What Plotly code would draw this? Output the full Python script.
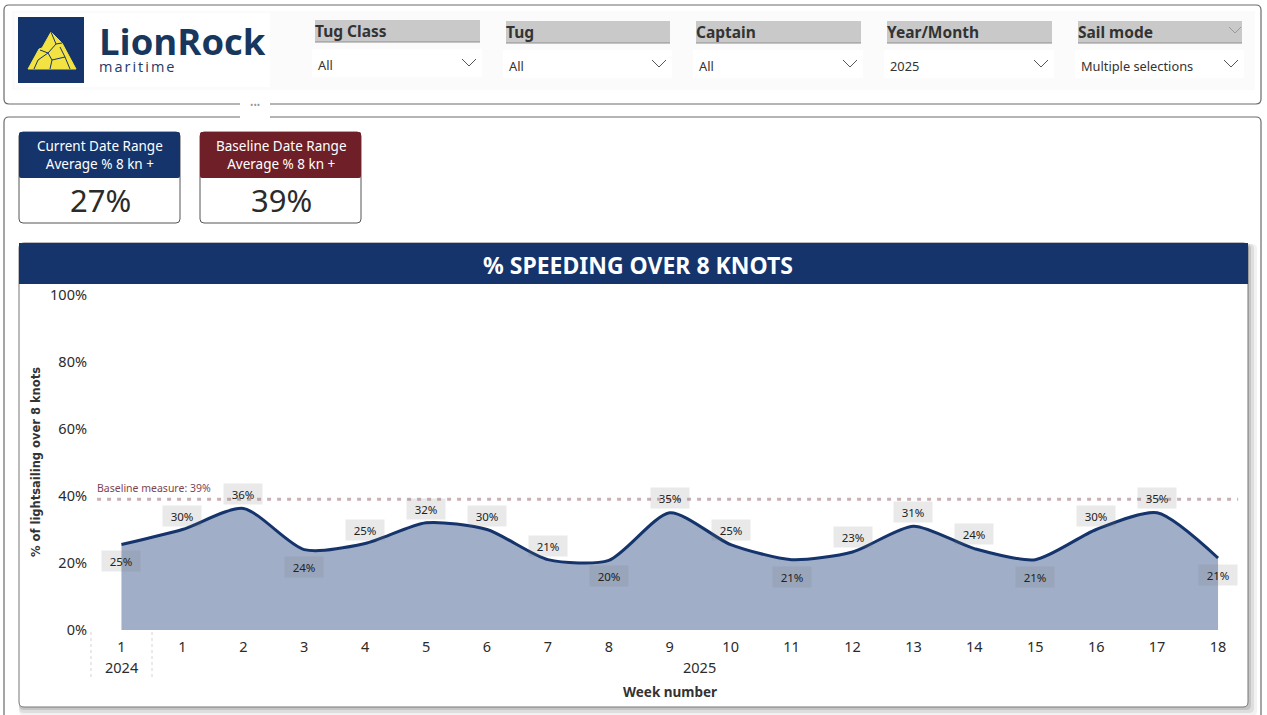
import plotly.graph_objects as go

W, H = 1267, 715
week_labels = ["1","1","2","3","4","5","6","7","8","9","10","11","12","13","14","15","16","17","18"]
values = [25.5,30,36.3,24,25.8,32,30,21,20.8,35,25.5,21,23.3,31,24.3,21,30,35,21.5]
value_labels = ["25%","30%","36%","24%","25%","32%","30%","21%","20%","35%","25%","21%","23%","31%","24%","21%","30%","35%","21%"]
label_offsets = [-16,14,14,-17,14,14,14,14,-16,15,15,-17,15,14,15,-17,14,15,-17]
baseline_value = 39
slicers = [("Tug Class","All",315,480,20),("Tug","All",506,670,21),("Captain","All",696,861,21),
           ("Year/Month","2025",887,1052,21),("Sail mode","Multiple selections",1078,1242,21)]
kpis = [("Current Date Range<br>Average % 8 kn +","27%",19,"#14346b"),
        ("Baseline Date Range<br>Average % 8 kn +","39%",200,"#6e1f27")]

NAVY = "#14346b"; FONT = "Noto Sans"; TXT = "#2b2b2b"
px = lambda v: v / W
py = lambda v: 1 - v / H
shapes, ann = [], []

def rrect(x0, y0, x1, y1, r=4, fill=None, line=None, lw=1, layer="below", op=1):
    X0,X1,Y0,Y1 = x0,x1,y0,y1
    p = (f"M{px(X0+r)},{py(Y0)} L{px(X1-r)},{py(Y0)} Q{px(X1)},{py(Y0)} {px(X1)},{py(Y0+r)} "
         f"L{px(X1)},{py(Y1-r)} Q{px(X1)},{py(Y1)} {px(X1-r)},{py(Y1)} L{px(X0+r)},{py(Y1)} "
         f"Q{px(X0)},{py(Y1)} {px(X0)},{py(Y1-r)} L{px(X0)},{py(Y0+r)} Q{px(X0)},{py(Y0)} {px(X0+r)},{py(Y0)} Z")
    shapes.append(dict(type="path", xref="paper", yref="paper", path=p, fillcolor=fill or "rgba(0,0,0,0)",
                       line=dict(color=line or "rgba(0,0,0,0)", width=lw if line else 0), layer=layer, opacity=op))

def rect(x0, y0, x1, y1, fill, layer="below"):
    shapes.append(dict(type="rect", xref="paper", yref="paper", x0=px(x0), x1=px(x1), y0=py(y0), y1=py(y1),
                       fillcolor=fill, line=dict(width=0), layer=layer))

def seg(pts, color, w=1, dash=None, fill=None, layer="below"):
    p = "M" + " L".join(f"{px(a)},{py(b)}" for a, b in pts)
    if fill: p += " Z"
    shapes.append(dict(type="path", xref="paper", yref="paper", path=p, fillcolor=fill or "rgba(0,0,0,0)",
                       line=dict(color=color, width=w, dash=dash or "solid"), layer=layer))

def text(x, y, s, size, color=TXT, anchor="center", bold=False, family=FONT, **kw):
    ann.append(dict(xref="paper", yref="paper", x=px(x), y=py(y), text=f"<b>{s}</b>" if bold else s, showarrow=False,
                    xanchor=anchor, yanchor="middle", font=dict(size=size, color=color, family=family), **kw))

# outer panels
rrect(4, 5, 1261, 104, 5, "#ffffff", "#6b6b6b", 1.2)
rrect(4, 117, 1261, 760, 5, "#ffffff", "#6b6b6b", 1.2)
rect(240, 100, 270, 120, "#ffffff")
text(255, 104, "•••", 9, "#999999")

# logo
rect(12, 11, 1255, 90, "#fbfbfb")
rect(15, 13, 270, 87, "#ffffff")
rect(18, 17, 84, 83, "#14346b")
seg([(28,69),(39,49),(42,48),(51,32),(62,43),(76,69)], "#f2e342", 1, fill="#f2e342")
for c in ([(51,32),(56,44),(48,53),(52,60),(50,69)], [(62,43),(56,44)], [(48,53),(40,50)],
          [(52,60),(65,57),(70,69)], [(65,57),(60,47)], [(48,53),(38,60),(34,69)]):
    seg(c, "#14346b", 1)
text(97, 41, "LionRock", 36.5, "#17375e", "left", True, "Open Sans")
text(105, 66, "maritime", 14.5, "#1f3a63", "left", False, "Open Sans")

# slicers
for name, val, x0, x1, y0 in slicers:
    rect(x0, y0, x1, y0 + 22, "#c9c9c9")
    seg([(x0, y0 + 22), (x1, y0 + 22)], "#8d8d8d", 1)
    text(x0 - 2, y0 + 11, name, 15.5, "#333333", "left", True)
    rect(x0 - 3, y0 + 29, x1 + 2, y0 + 57, "#ffffff")
    text(x0 + 1, y0 + 44.5, val, 12.8, "#333333", "left")
    seg([(x1 - 18, y0 + 39), (x1 - 11, y0 + 46), (x1 - 4, y0 + 39)], "#555555", 1)
seg([(1229, 27), (1235, 33), (1241, 27)], "#999999", 1)

# KPI cards
for title, val, x0, col in kpis:
    rrect(x0, 132, x0 + 161, 223, 4, "#ffffff", "#555555", 1)
    rrect(x0, 132, x0 + 161, 178, 2, col)
    text(x0 + 81, 155, title, 13.5, "#ffffff")
    text(x0 + 81, 200, val, 31, "#2b2b2b")

# chart card
for d, o in ((9, .08), (6, .12), (3, .18)):
    rrect(19, 244, 1248 + d, 707 + d, 5, "#555555", op=o)
rrect(19, 243, 1248, 707, 5, "#ffffff", "#777777", 1)
rect(19, 243, 1248, 284, NAVY)
text(638, 265, "% SPEEDING OVER 8 KNOTS", 23, "#ffffff", bold=True)

# separators, axis titles
for x in (91, 152):
    seg([(x, 632), (x, 678)], "#d4d4d4", 1, "dot")
text(121, 667, "2024", 14.5)
text(699, 667, "2025", 14.5)
text(670, 692, "Week number", 13.5, "#333333", bold=True)
ann.append(dict(xref="paper", yref="paper", x=px(36), y=py(462), text="<b>% of lightsailing over 8 knots</b>",
                xanchor="center", yanchor="middle", textangle=-90, showarrow=False,
                font=dict(size=11.5, color="#333333", family="DejaVu Sans")))

xs = list(range(len(values)))
fig = go.Figure()
fig.add_trace(go.Scatter(x=xs, y=values, mode="lines", fill="tozeroy", fillcolor="#a0aec8",
                         line=dict(color="#14346b", width=3, shape="spline", smoothing=0.7), hoverinfo="skip"))
fig.add_trace(go.Scatter(x=[-0.4, 18.33], y=[baseline_value, baseline_value], mode="lines",
                         line=dict(color="#c9b0b5", width=3, dash="4px,6px"), hoverinfo="skip"))

# data labels
for x, v, t, o in zip(xs, values, value_labels, label_offsets):
    ann.append(dict(x=x, y=v, xref="x", yref="y", text=t, showarrow=False, yshift=o, width=36, height=18,
                    bgcolor="rgba(120,120,120,0.16)", font=dict(size=11.5, color="#222222", family=FONT)))
ann.append(dict(x=-0.4, y=baseline_value, xref="x", yref="y", text="Baseline measure: 39%", showarrow=False, xanchor="left",
                yshift=11, xshift=-2, font=dict(size=10.5, color="#7e4450", family=FONT)))

fig.update_layout(width=W, height=H, margin=dict(l=0, r=0, t=0, b=0, autoexpand=False), paper_bgcolor="#ffffff", plot_bgcolor="rgba(0,0,0,0)",
                  showlegend=False, shapes=shapes, annotations=ann, font=dict(family=FONT, color=TXT),
                  xaxis=dict(domain=[px(91), px(1248.5)], range=[-0.5, 18.5], tickmode="array", tickvals=xs, ticktext=week_labels,
                             showgrid=False, zeroline=False, showline=False, ticks="", ticklabelstandoff=6,
                             tickfont=dict(size=14.5, color=TXT), anchor="y"),
                  yaxis=dict(domain=[py(630), py(295)], range=[0, 100], tick0=0, dtick=20, ticksuffix="%", ticklabelstandoff=3,
                             showgrid=False, zeroline=False, showline=False, tickfont=dict(size=14.5, color=TXT), anchor="x"))
fig.write_html("out.html", post_script="""document.body.style.margin='0';document.body.style.overflow='hidden';
document.querySelectorAll('.annotation-text').forEach(function(t){if(t.textContent==='maritime'){t.style.letterSpacing='2px';}});""",
               config=dict(displayModeBar=False))
